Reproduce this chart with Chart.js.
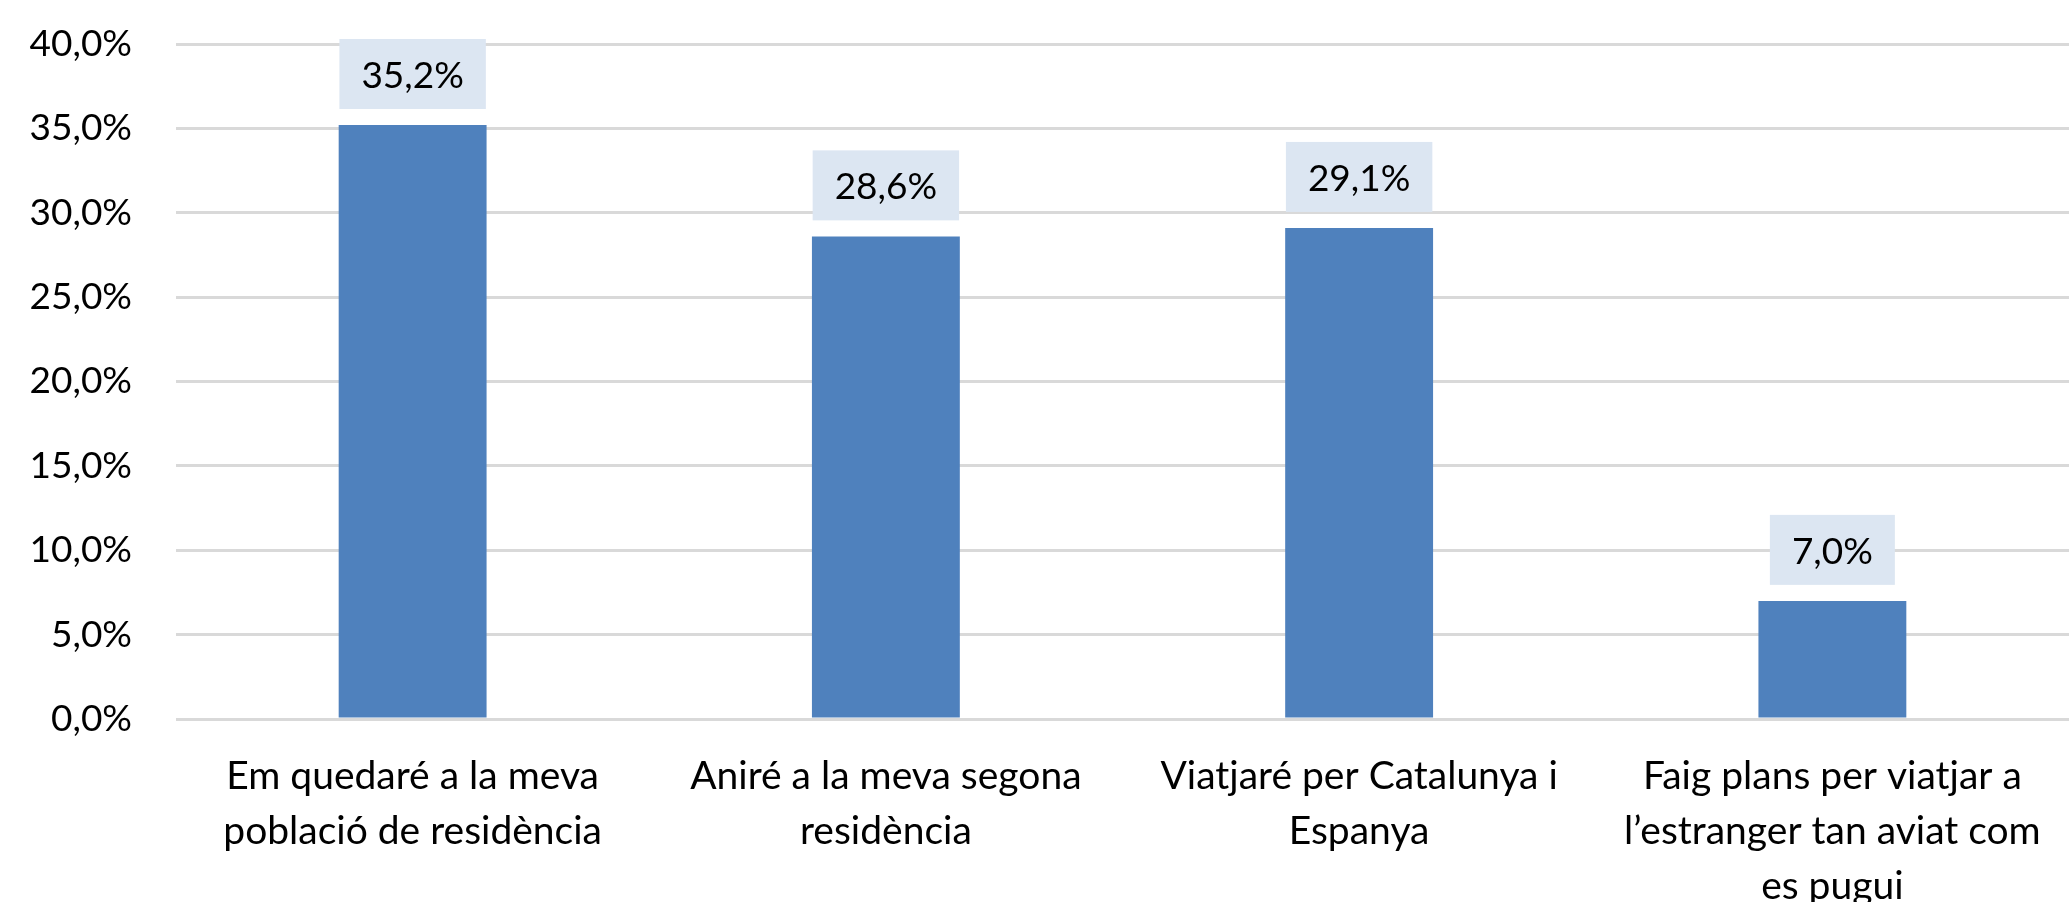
<!DOCTYPE html>
<html>
<head>
<meta charset="utf-8">
<script src="https://cdn.jsdelivr.net/npm/chart.js@4/dist/chart.umd.min.js"></script>
<style>
  html, body { margin: 0; padding: 0; background: #fff; }
</style>
</head>
<body>
<canvas id="c" width="2069" height="902"></canvas>
<script>
  "use strict";

  // dades
  var categories = [
    ["Em quedaré a la meva", "població de residència"],
    ["Aniré a la meva segona", "residència"],
    ["Viatjaré per Catalunya i", "Espanya"],
    ["Faig plans per viatjar a", "l\u2019estranger tan aviat com", "es pugui"]
  ];
  var values = [35.2, 28.6, 29.1, 7.0];
  var yMin = 0, yMax = 40, yStep = 5;

  var FONT = "Lato, 'Open Sans', sans-serif";
  var FS = 37;
  var pct = function(v) { return v.toFixed(1).replace('.', ',') + '%'; };

  // etiquetes de dades amb fons blau clar
  var boxLabels = {
    id: 'boxLabels',
    afterDatasetsDraw: function(chart) {
      var ctx = chart.ctx;
      var meta = chart.getDatasetMeta(0);
      ctx.save();
      ctx.font = FS + 'px ' + FONT;
      ctx.textAlign = 'center';
      ctx.textBaseline = 'middle';
      meta.data.forEach(function(bar, i) {
        var txt = pct(values[i]);
        var w = ctx.measureText(txt).width + 44;
        var h = 70;
        var bottom = bar.y - 16;
        ctx.fillStyle = '#DCE6F2';
        ctx.fillRect(bar.x - w / 2, bottom - h, w, h);
        ctx.fillStyle = '#000';
        ctx.fillText(txt, bar.x, bottom - h / 2 + 2);
      });
      ctx.restore();
    }
  };

  new Chart(document.getElementById('c').getContext('2d'), {
    type: 'bar',
    data: {
      labels: categories,
      datasets: [{
        data: values,
        backgroundColor: '#4F81BD',
        barPercentage: 0.625,
        categoryPercentage: 0.5
      }]
    },
    options: {
      responsive: false,
      animation: false,
      devicePixelRatio: 1,
      layout: { padding: { top: 44, right: 0, bottom: 0, left: 0 } },
      plugins: { legend: { display: false }, tooltip: { enabled: false } },
      scales: {
        x: {
          grid: { display: false },
          border: { display: false },
          ticks: {
            color: '#000',
            font: { family: FONT, size: 39, lineHeight: 1.41 },
            padding: 22,
            maxRotation: 0,
            autoSkip: false
          },
          afterFit: function(s) { s.height = 183; }
        },
        y: {
          min: yMin,
          max: yMax,
          grid: { color: '#D9D9D9', lineWidth: 3, drawTicks: false },
          border: { display: false },
          ticks: {
            stepSize: yStep,
            color: '#000',
            font: { family: FONT, size: FS },
            padding: 44,
            callback: function(v) { return pct(v); }
          },
          afterFit: function(s) {
            s.width = 176;
            s.paddingTop = 0;
            s.paddingBottom = 0;
          }
        }
      }
    },
    plugins: [boxLabels]
  });
</script>
</body>
</html>
